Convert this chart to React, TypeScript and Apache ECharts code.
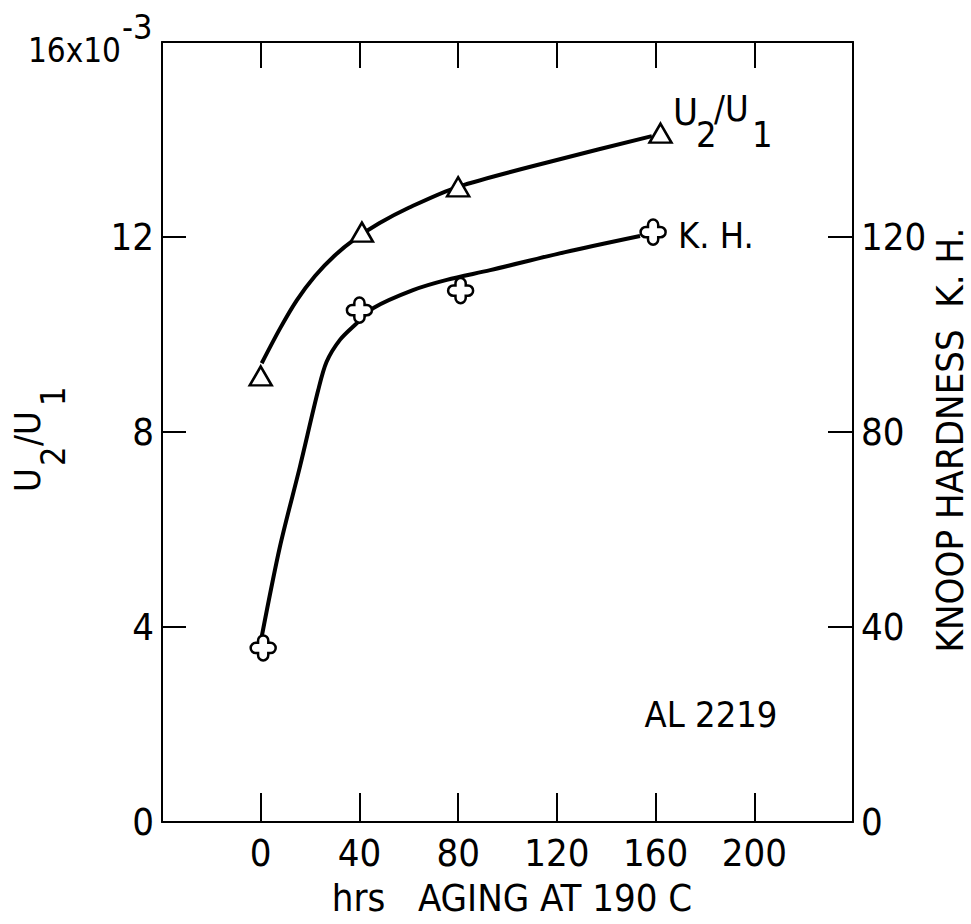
import React, { useEffect, useRef } from "react";
import * as echarts from "echarts";

// measured points
const U_HOURS = [0, 41, 80, 162];
const U_RATIO = [9.15, 12.1, 13.03, 14.13];
const KH_HOURS = [1, 40, 81, 159];
const KH_VALUES = [35.7, 105, 109, 121];

// hand-drawn fitted curves
const U_CURVE_HOURS = [0.4, 7.8, 14.6, 22, 30, 38, 48, 60, 80, 120, 158.5];
const U_CURVE_RATIO = [9.41, 10.12, 10.7, 11.2, 11.62, 11.95, 12.28, 12.6, 13.03, 13.58, 14.07];
const KH_CURVE_HOURS = [0.4, 7.8, 15.9, 23.3, 26.7, 32.1, 38.9, 45.5, 61.7, 75.4, 93.0, 123.4, 153.7];
const KH_CURVE_VALUES = [38.0, 56.5, 72.9, 88.6, 94.4, 98.9, 102.3, 105.4, 109.1, 111.2, 113.2, 116.9, 120.2];

// tick labels
const X_TICKS_SHOWN = [0, 40, 80, 120, 160, 200];
const Y_LEFT_SHOWN = [0, 4, 8, 12];
const Y_RIGHT_SHOWN = [0, 40, 80, 120];
const Y_MAX = 16;

const FONT = "'Liberation Sans Narrow', 'DejaVu Sans Condensed', 'Arial Narrow', sans-serif";
const CROSS =
  "path://M6.5,4.5 A4.5,4.5 0 0 1 15.5,4.5 L15.5,6.5 L17.5,6.5 A4.5,4.5 0 0 1 17.5,15.5 L15.5,15.5 L15.5,17.5 A4.5,4.5 0 0 1 6.5,17.5 L6.5,15.5 L4.5,15.5 A4.5,4.5 0 0 1 4.5,6.5 L6.5,6.5 Z";
const TOP_TICK_LEN = 0.53; // in y-axis units (about 26px)

const zip = (a: number[], b: number[]) => a.map((v, i) => [v, b[i]]);

export default function App() {
  const ref = useRef<HTMLDivElement>(null);
  useEffect(() => {
    if (!ref.current) return;
    const chart = echarts.init(ref.current, undefined, { renderer: "svg" });
    const ls = () => ({ color: "#000", width: 2 });
    const baseLabel = { color: "#000", fontFamily: FONT, fontSize: 38 };
    const txt = (x: number, y: number, text: string, size: number, extra: any = {}) => ({
      type: "text",
      x,
      y,
      style: { text, fill: "#000", font: `${size}px ${FONT}`, ...extra },
    });
    const rot = (x: number, y: number, text: string, size: number) => ({
      type: "text",
      x,
      y,
      style: { text, fill: "#000", font: `${size}px ${FONT}`, verticalAlign: "middle" },
    });
    chart.setOption({
      animation: false,
      backgroundColor: "#fff",
      grid: { left: 162, right: 118, top: 42, bottom: 102, containLabel: false },
      xAxis: [
        {
          type: "value",
          min: -40,
          max: 240,
          interval: 40,
          position: "bottom",
          axisLine: { show: true, onZero: false, lineStyle: ls() },
          axisTick: { show: true, inside: true, length: 29, lineStyle: ls() },
          splitLine: { show: false },
          axisLabel: {
            ...baseLabel,
            margin: 12,
            formatter: (v: number) => (X_TICKS_SHOWN.includes(v) ? String(v) : ""),
          },
        },
        {
          type: "value",
          min: -40,
          max: 240,
          interval: 40,
          position: "top",
          axisLine: { show: true, onZero: false, lineStyle: ls() },
          axisTick: { show: true, inside: true, length: 26, lineStyle: ls() },
          splitLine: { show: false },
          axisLabel: { show: true, color: "rgba(0,0,0,0)", fontSize: 8 },
        },
      ],
      yAxis: [
        {
          type: "value",
          min: 0,
          max: Y_MAX,
          interval: 4,
          position: "left",
          axisLine: { show: true, onZero: false, lineStyle: ls() },
          axisTick: { show: true, inside: true, length: 24, lineStyle: ls() },
          splitLine: { show: false },
          axisLabel: {
            ...baseLabel,
            margin: 8,
            formatter: (v: number) => (Y_LEFT_SHOWN.includes(v) ? String(v) : ""),
          },
        },
        {
          type: "value",
          min: 0,
          max: 160,
          interval: 40,
          position: "right",
          axisLine: { show: true, onZero: false, lineStyle: ls() },
          axisTick: { show: true, inside: true, length: 25, lineStyle: ls() },
          splitLine: { show: false },
          axisLabel: {
            ...baseLabel,
            margin: 8,
            formatter: (v: number) => (Y_RIGHT_SHOWN.includes(v) ? String(v) : ""),
          },
        },
      ],
      series: [
        {
          type: "line",
          xAxisIndex: 0,
          yAxisIndex: 0,
          data: zip(U_CURVE_HOURS, U_CURVE_RATIO),
          smooth: 0.3,
          symbol: "none",
          lineStyle: { color: "#000", width: 4 },
          z: 2,
          markLine: {
            silent: true,
            symbol: "none",
            label: { show: false },
            lineStyle: { color: "#000", width: 2, type: "solid" },
            emphasis: { disabled: true },
            data: X_TICKS_SHOWN.map((v) => [
              { coord: [v, Y_MAX] },
              { coord: [v, Y_MAX - TOP_TICK_LEN] },
            ]),
          },
        },
        {
          type: "line",
          xAxisIndex: 0,
          yAxisIndex: 1,
          data: zip(KH_CURVE_HOURS, KH_CURVE_VALUES),
          smooth: 0.3,
          symbol: "none",
          lineStyle: { color: "#000", width: 4 },
          z: 2,
        },
        {
          type: "scatter",
          xAxisIndex: 0,
          yAxisIndex: 0,
          data: zip(U_HOURS, U_RATIO),
          symbol: "triangle",
          symbolSize: [22, 19],
          itemStyle: { color: "#fff", borderColor: "#000", borderWidth: 2.5, opacity: 1 },
          z: 5,
        },
        {
          type: "scatter",
          xAxisIndex: 0,
          yAxisIndex: 1,
          data: zip(KH_HOURS, KH_VALUES),
          symbol: CROSS,
          symbolKeepAspect: true,
          symbolSize: 25,
          itemStyle: { color: "#fff", borderColor: "#000", borderWidth: 2.5, opacity: 1 },
          z: 5,
        },
      ],
      graphic: [
        txt(121, 50, "16x10", 33, { align: "right", verticalAlign: "middle" }),
        txt(122, 27, "-3", 34, { align: "left", verticalAlign: "middle" }),
        // inline series labels
        txt(673, 112, "U", 38, { verticalAlign: "middle" }),
        txt(696, 134, "2", 36, { verticalAlign: "middle" }),
        txt(714, 108, "/U", 36, { verticalAlign: "middle" }),
        txt(752, 134, "1", 36, { verticalAlign: "middle" }),
        txt(678, 235, "K. H.", 36, { verticalAlign: "middle" }),
        txt(711, 714, "AL 2219", 36, { align: "center", verticalAlign: "middle" }),
        // x axis title
        txt(512, 898, "hrs   AGING AT 190 C", 38, { align: "center", verticalAlign: "middle" }),
        // right axis title
        {
          type: "text",
          x: 950,
          y: 440,
          rotation: Math.PI / 2,
          style: {
            text: "KNOOP HARDNESS  K. H.",
            fill: "#000",
            font: `38px ${FONT}`,
            align: "center",
            verticalAlign: "middle",
          },
        },
        // left axis title
        {
          type: "group",
          x: 27,
          y: 492,
          rotation: Math.PI / 2,
          children: [
            rot(0, 0, "U", 36),
            rot(26, 26, "2", 34),
            rot(46, 0, "/U", 36),
            rot(86, 26, "1", 34),
          ],
        },
      ],
    });
    return () => chart.dispose();
  }, []);
  return (
    <div
      ref={ref}
      style={{ position: "fixed", left: 0, top: 0, width: 971, height: 924, background: "#fff" }}
    />
  );
}
